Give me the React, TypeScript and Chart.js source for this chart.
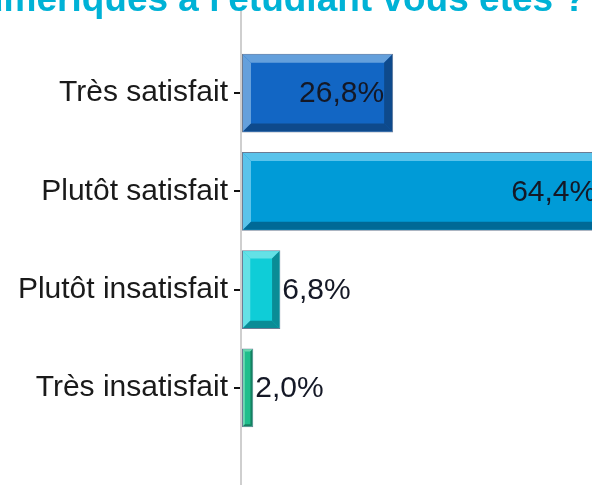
import React, { useEffect, useRef } from 'react';
import { Chart, registerables } from 'chart.js';

Chart.register(...registerables);

const categories = ['Très satisfait', 'Plutôt satisfait', 'Plutôt insatisfait', 'Très insatisfait'];
const values = [26.8, 64.4, 6.8, 2.0];
const valueLabels = ['26,8%', '64,4%', '6,8%', '2,0%'];
const barColors = ['#1266C4', '#009BD7', '#0FCDD7', '#20BE8C'];
const lightColors = ['#64A0DC', '#5AC3EB', '#64E1E6', '#6CD8B2'];
const darkColors = ['#0E4A8C', '#006996', '#0A8C96', '#158060'];
const titleText = "Concernant l'offre de services numériques à l'étudiant vous êtes ?";

const FONT = "'Liberation Sans', Arial, sans-serif";

const axisLinePlugin = {
  id: 'axisLine',
  beforeDatasetsDraw(chart: any) {
    const ctx = chart.ctx;
    const x = chart.scales.x.getPixelForValue(0);
    ctx.save();
    ctx.strokeStyle = '#CFCFCF';
    ctx.lineWidth = 2;
    ctx.beginPath();
    ctx.moveTo(x - 1, 10);
    ctx.lineTo(x - 1, chart.height);
    ctx.stroke();
    ctx.restore();
  },
};

const bevelPlugin = {
  id: 'bevel',
  afterDatasetsDraw(chart: any) {
    const ctx = chart.ctx;
    const meta = chart.getDatasetMeta(0);
    ctx.save();
    meta.data.forEach((el: any, i: number) => {
      const p = el.getProps(['x', 'y', 'base', 'height'], true);
      const L = Math.min(p.x, p.base) + 1;
      const R = Math.max(p.x, p.base) - 1;
      const T = p.y - p.height / 2 + 1;
      const B = p.y + p.height / 2 - 1;
      const b = Math.min(8, (R - L) * 0.2);
      const poly = (pts: number[][], color: string) => {
        ctx.fillStyle = color;
        ctx.beginPath();
        ctx.moveTo(pts[0][0], pts[0][1]);
        for (let k = 1; k < pts.length; k++) ctx.lineTo(pts[k][0], pts[k][1]);
        ctx.closePath();
        ctx.fill();
      };
      poly([[L, T], [R, T], [R - b, T + b], [L + b, T + b]], lightColors[i]);
      poly([[L, T], [L + b, T + b], [L + b, B - b], [L, B]], lightColors[i]);
      poly([[L, B], [L + b, B - b], [R - b, B - b], [R, B]], darkColors[i]);
      poly([[R, T], [R, B], [R - b, B - b], [R - b, T + b]], darkColors[i]);

      ctx.font = `30px ${FONT}`;
      ctx.fillStyle = '#141826';
      ctx.textBaseline = 'middle';
      const text = valueLabels[i];
      const tw = ctx.measureText(text).width;
      if (tw + 2 * b + 6 < R - L) {
        ctx.textAlign = 'right';
        ctx.fillText(text, R - b, p.y + 1);
      } else {
        ctx.textAlign = 'left';
        ctx.fillText(text, R + 3, p.y + 1);
      }
    });
    ctx.restore();
  },
};

const titlePlugin = {
  id: 'cutTitle',
  afterDraw(chart: any) {
    const ctx = chart.ctx;
    ctx.save();
    ctx.font = `bold 37px ${FONT}`;
    ctx.fillStyle = '#00B2D6';
    ctx.textAlign = 'right';
    ctx.textBaseline = 'alphabetic';
    ctx.fillText(titleText, 586, 11);
    ctx.restore();
  },
};

export default function App() {
  const ref = useRef<HTMLCanvasElement>(null);
  useEffect(() => {
    Chart.defaults.font.family = FONT;
    const chart = new Chart(ref.current as HTMLCanvasElement, {
      type: 'bar',
      data: {
        labels: categories,
        datasets: [
          {
            data: values,
            backgroundColor: barColors,
            borderColor: '#6C7C94',
            borderWidth: 1,
            borderSkipped: false,
            categoryPercentage: 0.8,
            barPercentage: 1.0,
          },
        ],
      },
      options: {
        indexAxis: 'y',
        animation: false,
        responsive: true,
        maintainAspectRatio: false,
        layout: { padding: { top: 44, bottom: 48, left: 0, right: 0 } },
        plugins: {
          legend: { display: false },
          title: { display: false },
          tooltip: { enabled: false },
        },
        scales: {
          x: { display: false, min: 0, max: 100 },
          y: {
            grid: {
              display: true,
              drawOnChartArea: false,
              drawTicks: true,
              tickLength: 8,
              color: '#000000',
              tickColor: '#111111',
              tickWidth: 2,
              lineWidth: 2,
              offset: false,
            },
            border: { display: false },
            ticks: { color: '#1A1A1A', font: { size: 30, family: FONT }, padding: 6 },
            afterFit: (s: any) => {
              s.width = 242;
            },
          },
        },
      },
      plugins: [axisLinePlugin, bevelPlugin, titlePlugin],
    });
    return () => chart.destroy();
  }, []);
  return (
    <div
      style={{
        position: 'fixed',
        left: 0,
        top: 0,
        width: 592,
        height: 485,
        overflow: 'hidden',
        background: '#fff',
      }}
    >
      <div style={{ position: 'relative', width: 806, height: 485 }}>
        <canvas ref={ref} />
      </div>
    </div>
  );
}
